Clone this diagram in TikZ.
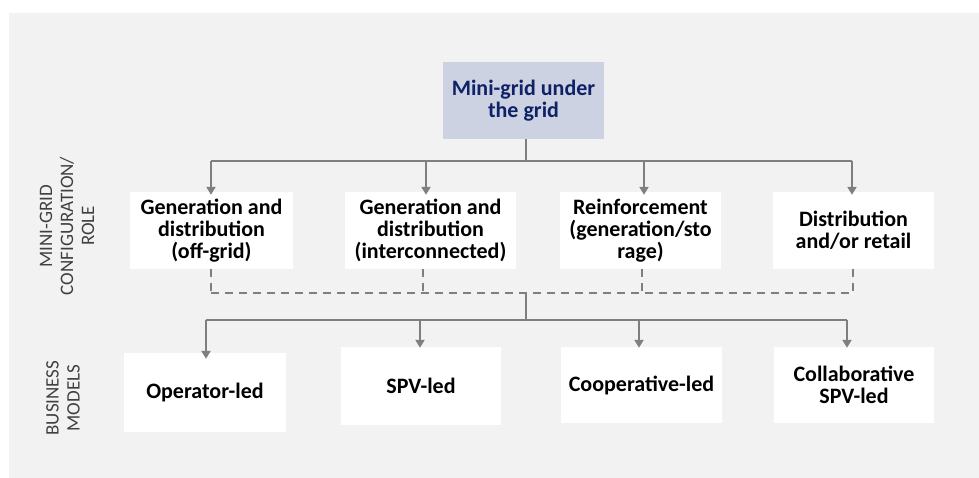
\documentclass[tikz,border=0pt]{standalone}
\usepackage{fontspec}
\setmainfont{Carlito}
\usetikzlibrary{arrows.meta}
\definecolor{bgcol}{HTML}{F2F2F2}
\definecolor{topfill}{HTML}{CCD2E2}
\definecolor{navy}{HTML}{0F2167}
\definecolor{linecol}{HTML}{7F7F7F}
\definecolor{labcol}{HTML}{404040}
\begin{document}
\begin{tikzpicture}[x=1pt,y=-1pt,
  box/.style={fill=white, draw=none, inner sep=0pt, align=center,
    font=\fontsize{22}{22}\selectfont\bfseries, text=black},
  conn/.style={draw=linecol, line width=2pt},
  arr/.style={conn, -{Triangle[length=8pt,width=9pt]}},
  dsh/.style={conn, dash pattern=on 8pt off 6pt},
  sidelab/.style={rotate=90, align=center, text=labcol,
    font=\fontsize{19}{21}\selectfont}
]
\useasboundingbox (0,0) rectangle (979,478);
\fill[bgcol] (9,13) rectangle (979,478);

% top box
\node[box, fill=topfill, text=navy, minimum width=161pt, minimum height=77pt]
  (top) at (523.5,100.5) {Mini-grid under\\the grid};

% row 1
\node[box, minimum width=163pt, minimum height=77pt] (c1) at (211.5,230.5)
  {Generation and\\distribution\\(off-grid)};
\node[box, minimum width=171pt, minimum height=77pt] (c2) at (430.5,230.5)
  {Generation and\\distribution\\(interconnected)};
\node[box, minimum width=161pt, minimum height=77pt] (c3) at (640.5,230.5)
  {Reinforcement\\(generation/sto\\rage)};
\node[box, minimum width=161pt, minimum height=77pt] (c4) at (853.5,230.5)
  {Distribution\\and/or retail};

% row 2
\node[box, minimum width=162pt, minimum height=79pt] (m1) at (205,392.5) {Operator-led};
\node[box, minimum width=160pt, minimum height=78pt] (m2) at (421,386) {SPV-led};
\node[box, minimum width=161pt, minimum height=76pt] (m3) at (641.5,385) {Cooperative-led};
\node[box, minimum width=160pt, minimum height=76pt] (m4) at (854,385) {Collaborative\\SPV-led};

% side labels
\node[sidelab] (lab1) at (67,226) {MINI-GRID\\CONFIGURATION/\\ROLE};
\node[sidelab] (lab2) at (63,398) {BUSINESS\\MODELS};

% branch coordinates
\coordinate (j1) at (526,161);
\coordinate (j2) at (526,293);
\coordinate (j3) at (526,320);

% top to row 1
\draw[conn] ([xshift=2.5pt]top.south) -- (j1);
\draw[conn] (211,161) -- (852,161);
\draw[arr] (j1 -| 211,0) -- ([xshift=-0.5pt,yshift=-3pt]c1.north);
\draw[arr] (j1 -| 426,0) -- ([xshift=-4.5pt,yshift=-3pt]c2.north);
\draw[arr] (j1 -| 644,0) -- ([xshift=3.5pt,yshift=-3pt]c3.north);
\draw[arr] (j1 -| 852,0) -- ([xshift=-1.5pt,yshift=-3pt]c4.north);

% dashed collection
\draw[dsh] ([xshift=-0.5pt]c1.south) -- (j2 -| 211,0);
\draw[dsh] ([xshift=-7.5pt]c2.south) -- (j2 -| 423,0);
\draw[dsh] ([xshift=1.5pt]c3.south) -- (j2 -| 642,0);
\draw[dsh] ([xshift=-0.5pt]c4.south) -- (j2 -| 853,0);
\draw[dsh] (211,293) -- (853,293);

% to row 2
\draw[conn] (j2) -- (j3);
\draw[conn] (206,320) -- (847,320);
\draw[arr] (j3 -| 206,0) -- ([xshift=1pt,yshift=-6pt]m1.north);
\draw[arr] (j3 -| 420,0) -- ([xshift=-1pt,yshift=-1pt]m2.north);
\draw[arr] (j3 -| 639,0) -- ([xshift=-2.5pt,yshift=-1pt]m3.north);
\draw[arr] (j3 -| 847,0) -- ([xshift=-7pt,yshift=-1pt]m4.north);
\end{tikzpicture}
\end{document}
